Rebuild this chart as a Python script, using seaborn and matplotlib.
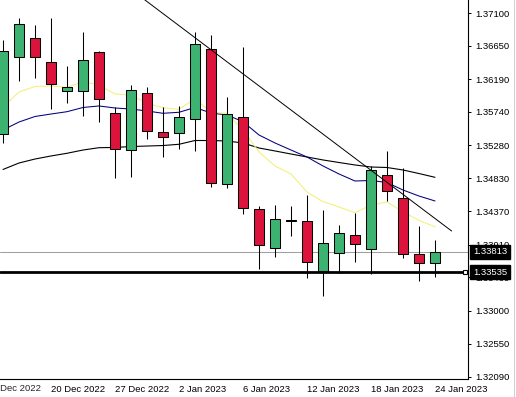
import matplotlib
matplotlib.use("Agg")
import numpy as np
import pandas as pd
import matplotlib.pyplot as plt
import matplotlib.transforms as mtransforms
import seaborn as sns

# daily candles, 15 Dec 2022 .. 24 Jan 2023
opens = [1.35433, 1.36494, 1.36760, 1.36429, 1.36025, 1.36025, 1.36567, 1.35722,
         1.35212, 1.36002, 1.35460, 1.35446, 1.35648, 1.36604, 1.34744, 1.35667,
         1.34399, 1.33862, 1.34245, 1.34238, 1.33553, 1.33793, 1.34041, 1.33852,
         1.34868, 1.34551, 1.33779, 1.33655]
highs = [1.36732, 1.37039, 1.36943, 1.37039, 1.36374, 1.36842, 1.36576, 1.35805,
         1.36112, 1.36089, 1.35805, 1.35823, 1.36842, 1.36805, 1.35951, 1.36640,
         1.34445, 1.34458, 1.34445, 1.34596, 1.34389, 1.34183, 1.34344, 1.34996,
         1.35203, 1.34964, 1.34169, 1.33976]
lows = [1.35317, 1.36163, 1.36213, 1.35785, 1.35868, 1.35689, 1.35606, 1.34835,
        1.34848, 1.35372, 1.35124, 1.35226, 1.35207, 1.34700, 1.34689, 1.34330,
        1.33572, 1.33746, 1.34031, 1.33448, 1.33209, 1.33517, 1.33677, 1.33503,
        1.34514, 1.33724, 1.33415, 1.33462]
closes = [1.36581, 1.36953, 1.36494, 1.36122, 1.36080, 1.36456, 1.35923, 1.35226,
          1.36043, 1.35474, 1.35400, 1.35667, 1.36677, 1.34757, 1.35708, 1.34413,
          1.33903, 1.34261, 1.34238, 1.33669, 1.33931, 1.34068, 1.33917, 1.34941,
          1.34647, 1.33787, 1.33655, 1.33813]

# moving averages
ma_fast = [1.35809, 1.36016, 1.36091, 1.36098, 1.36080, 1.36157, 1.36112, 1.35988,
           1.35974, 1.35860, 1.35799, 1.35777, 1.35923, 1.35736, 1.35722, 1.35492,
           1.35189, 1.34996, 1.34886, 1.34637, 1.34504, 1.34431, 1.34352, 1.34458,
           1.34500, 1.34366, 1.34245, 1.34159]
ma_mid = [1.35492, 1.35602, 1.35678, 1.35712, 1.35744, 1.35802, 1.35823, 1.35795,
          1.35781, 1.35754, 1.35722, 1.35736, 1.35802, 1.35726, 1.35699, 1.35606,
          1.35423, 1.35313, 1.35216, 1.35120, 1.34996, 1.34886, 1.34789, 1.34796,
          1.34768, 1.34665, 1.34582, 1.34514]
ma_slow = [1.34948, 1.35037, 1.35092, 1.35134, 1.35171, 1.35216, 1.35248, 1.35251,
           1.35264, 1.35271, 1.35278, 1.35295, 1.35347, 1.35347, 1.35340, 1.35313,
           1.35244, 1.35203, 1.35161, 1.35120, 1.35079, 1.35044, 1.35010, 1.34982,
           1.34975, 1.34941, 1.34892, 1.34840]

# trendline (bar index, price)
trend_x = [7.0, 28.04]
trend_y = [1.37594, 1.34100]

bid_price = 1.33813
level_price = 1.33535

y_ticks = [1.37100, 1.36650, 1.36190, 1.35740, 1.35280, 1.34830,
           1.34370, 1.33910, 1.33460, 1.33000, 1.32550, 1.32090]
x_tick_pos = [3, 7, 11, 15, 19, 23, 27]
x_tick_labels = ["20 Dec 2022", "27 Dec 2022", "2 Jan 2023", "6 Jan 2023",
                 "12 Jan 2023", "18 Jan 2023", "24 Jan 2023"]
first_label = "14 Dec 2022"

sns.set_style("white")
plt.rcParams["font.family"] = ["Liberation Sans", "DejaVu Sans"]

df = pd.DataFrame({"o": opens, "h": highs, "l": lows, "c": closes,
                   "fast": ma_fast, "mid": ma_mid, "slow": ma_slow})
df["i"] = np.arange(len(df))

fig = plt.figure(figsize=(5.16, 3.97), dpi=100)
ax = fig.add_axes([0, 18 / 397, 468 / 516, 379 / 397])

# moving averages
sns.lineplot(data=df, x="i", y="slow", color="black", linewidth=0.8, ax=ax, zorder=2)
sns.lineplot(data=df, x="i", y="mid", color="#000080", linewidth=0.75, ax=ax, zorder=2)
sns.lineplot(data=df, x="i", y="fast", color="#f3ef7a", linewidth=0.75, ax=ax, zorder=2)

# horizontal levels
ax.axhline(bid_price, color="#a0a0a0", linewidth=0.75, zorder=1)
ax.axhline(level_price, color="black", linewidth=2.0, zorder=4)

# candles
up = df["c"] >= df["o"]
colors = np.where(up, "#3cb371", "#dc143c")
ax.vlines(df["i"], df["l"], df["h"], color="black", linewidth=0.75, zorder=3)
ax.bar(df["i"], (df["c"] - df["o"]).abs(), bottom=df[["o", "c"]].min(axis=1),
       width=0.62, color=colors, edgecolor="black", linewidth=0.75, zorder=3)

# trendline
ax.plot(trend_x, trend_y, color="black", linewidth=0.7, zorder=5)

ax.set_xlim(-0.1875, 29.0625)
ax.set_ylim(1.32061, 1.37283)

ax.yaxis.tick_right()
ax.set_yticks(y_ticks)
ax.set_yticklabels([f"{v:.5f}" for v in y_ticks])
ax.set_xticks(x_tick_pos)
ax.set_xticklabels(x_tick_labels, ha="left")
ax.tick_params(axis="y", direction="out", length=2.5, width=0.7, pad=2.5,
               labelsize=6.8, colors="black")
ax.tick_params(axis="x", direction="out", length=3, width=0.7, pad=1.5,
               labelsize=6.8, colors="black")
ax.set_xlabel("")
ax.set_ylabel("")

for side in ["left", "top"]:
    ax.spines[side].set_visible(False)
for side in ["right", "bottom"]:
    ax.spines[side].set_color("black")
    ax.spines[side].set_linewidth(0.8)

# cut-off first date label
ax.text(-1, -0.012, first_label, transform=mtransforms.blended_transform_factory(ax.transData, ax.transAxes),
        ha="left", va="top", fontsize=6.8, clip_on=False)

# price boxes on the axis
tr = mtransforms.blended_transform_factory(ax.transAxes, ax.transData)
for p in [bid_price, level_price]:
    ax.text(1.0105, p, f"{p:.5f}", transform=tr, ha="left", va="center",
            color="white", fontsize=6.8, zorder=10, clip_on=False,
            bbox=dict(boxstyle="square,pad=0.3", fc="black", ec="black"))
ax.plot([28.875], [level_price], marker="s", markersize=3.5, mfc="white",
        mec="black", mew=0.8, clip_on=False, zorder=11)

fig.add_artist(plt.Line2D([514 / 516, 514 / 516], [0, 1], color="#d0d0d0", linewidth=0.7))

fig.savefig("out.png", dpi=100)
